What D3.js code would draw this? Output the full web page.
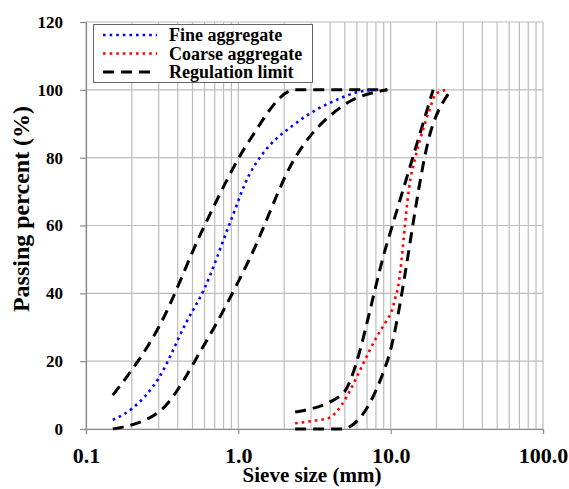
<!DOCTYPE html>
<html><head><meta charset="utf-8">
<script src="https://cdn.jsdelivr.net/npm/d3@7"></script>
<style>
body{margin:0;background:#fff}
svg{display:block}
text{font-family:"Liberation Serif","Times New Roman",serif;font-weight:bold;fill:#000}
</style></head>
<body><svg id="c" width="569" height="489"></svg>
<script>
// ---- data ----
const xTicks = [0.1, 1, 10, 100];
const yTicks = [0, 20, 40, 60, 80, 100, 120];

const fineSieve   = [0.15, 0.2, 0.3, 0.45, 0.6, 0.88, 1.18, 1.4, 2.36, 3.1, 4.2, 6.3, 7.9];
const finePassing = [2.7, 6, 15, 31, 41.5, 60.7, 75, 80.3, 90, 93.6, 96.6, 99.5, 100];

const coarseSieve   = [2.36, 3.2, 3.9, 4.75, 5.5, 6.46, 8.1, 9.4, 10.2, 10.7, 11.2, 11.8, 12.4, 13.2, 14.5, 16, 17.8, 20, 23.5];
const coarsePassing = [1.7, 2.5, 3.2, 7, 12, 18.4, 27.2, 32, 35, 38.5, 42, 50, 60, 71, 80, 87, 93.5, 99, 100];

const fineLimitSieve = [0.15, 0.3, 0.6, 1.18, 2.36, 4.75, 9.5];
const fineUpper      = [10, 30, 60, 85, 100, 100, 100];
const fineLower      = [0, 5, 25, 50, 80, 95, 100];

const coarseLimitSieve = [2.36, 4.75, 9.5, 19, 25];
const coarseUpper      = [5, 10, 55, 100, null];
const coarseLower      = [0, 0, 20, 90, 100];

const legendLabels = ["Fine aggregate", "Coarse aggregate", "Regulation limit"];

// ---- chart ----
const svg = d3.select("#c");
const x = d3.scaleLog().domain([0.1, 100]).range([86, 543]);
const y = d3.scaleLinear().domain([0, 120]).range([429, 22]);

const gridColor = "#bcbcbc";
svg.append("g").selectAll("line").data(x.ticks()).join("line")
  .attr("x1", d => x(d)).attr("x2", d => x(d))
  .attr("y1", y(120)).attr("y2", y(0))
  .attr("stroke", gridColor).attr("stroke-width", 1.2);
svg.append("g").selectAll("line").data(yTicks).join("line")
  .attr("x1", x(0.1)).attr("x2", x(100))
  .attr("y1", d => y(d)).attr("y2", d => y(d))
  .attr("stroke", gridColor).attr("stroke-width", 1.2);

const axisColor = "#8a8a8a";
const font = '"Liberation Serif","Times New Roman",serif';
const gy = svg.append("g").attr("transform", `translate(${x(0.1)},0)`)
  .call(d3.axisLeft(y).tickValues(yTicks).tickSize(6).tickPadding(17).tickFormat(d3.format("d")));
gy.select(".domain").attr("stroke", axisColor).attr("stroke-width", 1.2);
gy.selectAll(".tick line").attr("stroke", axisColor).attr("stroke-width", 1.2);
gy.selectAll("text").style("font-size", "17px").style("font-family", font).style("font-weight", "bold");

const gx = svg.append("g").attr("transform", `translate(0,${y(0)})`)
  .call(d3.axisBottom(x).tickValues(xTicks).tickSize(5).tickFormat(d3.format(".1f")));
gx.select(".domain").attr("stroke", axisColor).attr("stroke-width", 1.2);
gx.selectAll(".tick line").attr("stroke", axisColor).attr("stroke-width", 1.2);
gx.selectAll("text").attr("y", 34).attr("dy", null)
  .style("font-size", "22px").style("font-family", font).style("font-weight", "bold");

svg.append("text").attr("x", 312).attr("y", 482).attr("text-anchor", "middle")
  .style("font-size", "21px").text("Sieve size (mm)");
svg.append("text").attr("transform", "translate(29,209) rotate(-90)").attr("text-anchor", "middle")
  .style("font-size", "24px").text("Passing percent (%)");

const line = d3.line().defined(d => d[1] != null)
  .x(d => x(d[0])).y(d => y(d[1])).curve(d3.curveMonotoneX);
const zip = (a, b) => a.map((v, i) => [v, b[i]]);

const dashed = {stroke: "#000", w: 3, dash: "11,7"};
const dotted = c => ({stroke: c, w: 2.6, dash: "2.6,4"});

function draw(pts, st) {
  svg.append("path").datum(pts).attr("d", line)
    .attr("fill", "none").attr("stroke", st.stroke).attr("stroke-width", st.w)
    .attr("stroke-dasharray", st.dash);
}
draw(zip(fineLimitSieve, fineUpper), dashed);
draw(zip(fineLimitSieve, fineLower), dashed);
draw(zip(coarseLimitSieve, coarseUpper), dashed);
draw(zip(coarseLimitSieve, coarseLower), dashed);
draw(zip(fineSieve, finePassing), dotted("#0000ff"));
draw(zip(coarseSieve, coarsePassing), dotted("#ff0000"));

const lg = svg.append("g");
lg.append("rect").attr("x", 93.5).attr("y", 24.5).attr("width", 219).attr("height", 58)
  .attr("fill", "#fff").attr("stroke", "#666").attr("stroke-width", 1);
const legStyles = [dotted("#0000ff"), dotted("#ff0000"), dashed];
const rowY = [35, 53.5, 72];
legendLabels.forEach((lab, i) => {
  const s = legStyles[i];
  lg.append("line").attr("x1", 103).attr("x2", 157).attr("y1", rowY[i]).attr("y2", rowY[i])
    .attr("stroke", s.stroke).attr("stroke-width", s.w).attr("stroke-dasharray", s.dash);
  lg.append("text").attr("x", 169).attr("y", rowY[i] + 6).style("font-size", "18px").text(lab);
});
</script></body></html>
